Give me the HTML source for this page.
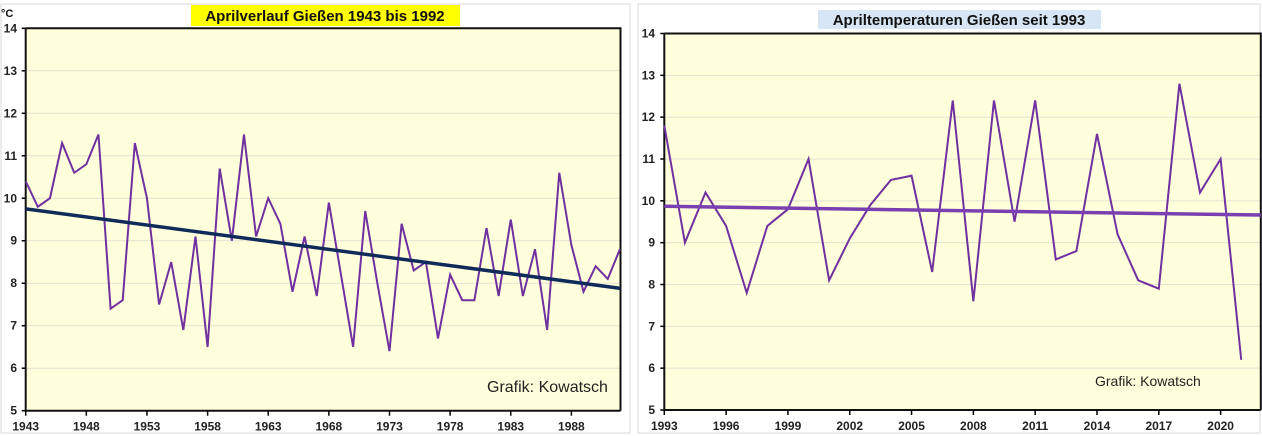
<!DOCTYPE html>
<html><head><meta charset="utf-8"><style>
body{margin:0;background:#fff;}
svg{display:block;font-family:"Liberation Sans",Arial,sans-serif;}
</style></head><body>
<svg width="1262" height="436">
<rect x="1" y="4" width="629" height="429" fill="#fff" stroke="#d8d8d8"/>
<rect x="638" y="4" width="622" height="429" fill="#fff" stroke="#d8d8d8"/>
<g id="left"></g><g id="right"></g>
</svg>
<script>
const leftYears=[1943,1944,1945,1946,1947,1948,1949,1950,1951,1952,1953,1954,1955,1956,1957,1958,1959,1960,1961,1962,1963,1964,1965,1966,1967,1968,1969,1970,1971,1972,1973,1974,1975,1976,1977,1978,1979,1980,1981,1982,1983,1984,1985,1986,1987,1988,1989,1990,1991,1992];
const leftTemps=[10.4,9.8,10.0,11.3,10.6,10.8,11.5,7.4,7.6,11.3,10.0,7.5,8.5,6.9,9.1,6.5,10.7,9.0,11.5,9.1,10.0,9.4,7.8,9.1,7.7,9.9,8.2,6.5,9.7,8.0,6.4,9.4,8.3,8.5,6.7,8.2,7.6,7.6,9.3,7.7,9.5,7.7,8.8,6.9,10.6,8.9,7.8,8.4,8.1,8.8];
const leftTrend=[9.75,7.88];
const leftTicks=[1943,1948,1953,1958,1963,1968,1973,1978,1983,1988];
const rightYears=[1993,1994,1995,1996,1997,1998,1999,2000,2001,2002,2003,2004,2005,2006,2007,2008,2009,2010,2011,2012,2013,2014,2015,2016,2017,2018,2019,2020,2021];
const rightTemps=[11.8,9.0,10.2,9.4,7.8,9.4,9.8,11.0,8.1,9.1,9.9,10.5,10.6,8.3,12.4,7.6,12.4,9.5,12.4,8.6,8.8,11.6,9.2,8.1,7.9,12.8,10.2,11.0,6.2];
const rightTrend=[9.87,9.66];
const rightTicks=[1993,1996,1999,2002,2005,2008,2011,2014,2017,2020];
const yTicks=[5,6,7,8,9,10,11,12,13,14];
const NS="http://www.w3.org/2000/svg";
function mk(p,t,a){const e=document.createElementNS(NS,t);for(const k in a)e.setAttribute(k,a[k]);p.appendChild(e);return e;}
function chart(g,o){
 const x=v=>o.x0+(v-o.y0)*(o.x1-o.x0)/(o.yEnd-o.y0);
 const y=v=>o.b-(v-5)*(o.b-o.t)/9;
 const bg=mk(g,'rect',{x:o.x0,y:o.t,width:o.x1-o.x0,height:o.b-o.t,fill:'#ffffdc'});
 
 yTicks.forEach(v=>{
  if(v>5&&v<14){const l=mk(g,'line',{x1:o.x0,x2:o.x1,y1:y(v),y2:y(v),stroke:'#e2e2d0','stroke-width':1});
  }
  mk(g,'line',{x1:o.x0-4,x2:o.x0,y1:y(v),y2:y(v),stroke:'#000','stroke-width':1.5});
  const t=mk(g,'text',{x:o.lx,y:y(v)+4,'font-size':12,'font-weight':'bold','text-anchor':'end',fill:'#222'});t.textContent=v;
  
 });
 mk(g,'path',{d:`M${o.x0},${o.t}H${o.x1}V${o.b}`,fill:'none',stroke:'#111','stroke-width':2});
 mk(g,'path',{d:`M${o.x0},${o.t}V${o.b}H${o.x1}`,fill:'none',stroke:'#111','stroke-width':2});
 o.ticks.forEach(v=>{
  mk(g,'line',{x1:x(v),x2:x(v),y1:o.b,y2:o.b+5,stroke:'#000','stroke-width':1.5});
  const t=mk(g,'text',{x:x(v),y:o.b+20,'font-size':12,'font-weight':'bold','text-anchor':'middle',fill:'#222'});t.textContent=v;
  
 });
 const pl=mk(g,'polyline',{points:o.years.map((yr,i)=>x(yr)+','+y(o.temps[i])).join(' '),fill:'none',stroke:'#7030a0','stroke-width':2,'stroke-linejoin':'miter'});
 
 const tr=mk(g,'line',{x1:x(o.y0),y1:y(o.trend[0]),x2:x(o.trendEnd),y2:y(o.trend[1]),stroke:o.trendColor,'stroke-width':3.5});
 
 const cr=mk(g,'text',{x:o.cx,y:o.cy,'font-size':o.cs,fill:'#222'});cr.textContent='Grafik: Kowatsch';
 
}
const L=document.getElementById('left');

chart(L,{x0:25.7,x1:620.5,y0:1943,yEnd:1992.05,t:28.3,b:410.7,lx:17,years:leftYears,temps:leftTemps,trend:leftTrend,trendEnd:1992.05,trendColor:'#102a5a',ticks:leftTicks,cx:487,cy:392,cs:16});
const R=document.getElementById('right');

chart(R,{x0:664.3,x1:1260.8,y0:1993,yEnd:2021.95,t:33.5,b:410,lx:655,years:rightYears,temps:rightTemps,trend:rightTrend,trendEnd:2021.95,trendColor:'#7a3fb0',ticks:rightTicks,cx:1095,cy:386,cs:14});
const s=document.querySelector('svg');
let r=mk(s,'rect',{x:191,y:5,width:269,height:21,fill:'#ffff00'});

let t=mk(s,'text',{x:325,y:21,'font-size':15,'font-weight':'bold','text-anchor':'middle',fill:'#111'});t.textContent='Aprilverlauf Gießen 1943 bis 1992';

r=mk(s,'rect',{x:818,y:10,width:283,height:19,fill:'#d6e6f4'});

t=mk(s,'text',{x:959,y:25,'font-size':15,'font-weight':'bold','text-anchor':'middle',fill:'#111'});t.textContent='Apriltemperaturen Gießen seit 1993';

t=mk(s,'text',{x:1,y:17,'font-size':11,'font-weight':'bold',fill:'#111'});t.textContent='°C';

</script>
</body></html>
